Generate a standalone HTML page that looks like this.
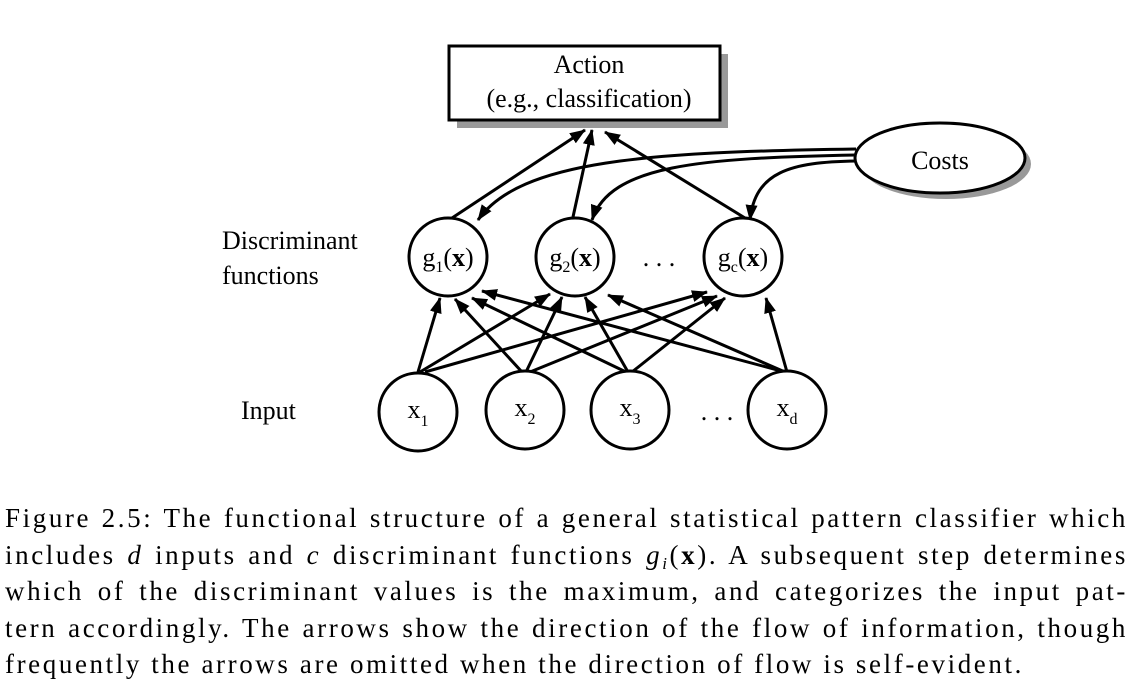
<!DOCTYPE html>
<html><head><meta charset="utf-8"><style>
body{margin:0;background:#fff;width:1141px;height:685px;overflow:hidden;position:relative}
svg{position:absolute;left:0;top:0}
.cap{position:absolute;left:5px;top:500px;width:1123px;font-family:"Liberation Serif",serif;font-size:27px;letter-spacing:2.6px;line-height:36.6px;color:#000}
.cap div{height:36.6px;white-space:nowrap;text-align:justify;text-align-last:justify}
.cap div.l{text-align-last:left}
</style></head><body>
<svg width="1141" height="685" viewBox="0 0 1141 685" font-family="Liberation Serif, serif">
<defs><marker id="b" markerWidth="16" markerHeight="12" refX="15" refY="6" orient="auto" markerUnits="userSpaceOnUse" viewBox="0 0 16 12"><path d="M0,0 L16,6 L0,12 z" fill="#000"/></marker></defs>
<rect x="457" y="54" width="271" height="74" fill="#999"/>
<rect x="449" y="46" width="271" height="74" fill="#fff" stroke="#000" stroke-width="3"/>
<text x="589" y="73" font-size="26" text-anchor="middle">Action</text>
<text x="589" y="107" font-size="26" text-anchor="middle">(e.g., classification)</text>
<ellipse cx="946" cy="164" rx="85" ry="35" fill="#999"/>
<ellipse cx="940" cy="158" rx="85" ry="35" fill="#fff" stroke="#000" stroke-width="3"/>
<text x="940" y="169" font-size="26" text-anchor="middle">Costs</text>
<g stroke="#000" stroke-width="3" fill="none">
<path d="M452,218 L585,130" marker-end="url(#b)"/>
<path d="M573,217 L592,130" marker-end="url(#b)"/>
<path d="M745,218 L605,132" marker-end="url(#b)"/>
<path d="M856,149 C650,152 520,160 478,220" marker-end="url(#b)"/>
<path d="M856,155 C700,158 610,165 592,220" marker-end="url(#b)"/>
<path d="M856,161 C790,162 755,172 750,220" marker-end="url(#b)"/>
<path d="M418,372 L440,298" marker-end="url(#b)"/>
<path d="M420,372 L550,294" marker-end="url(#b)"/>
<path d="M425,372 L707,292" marker-end="url(#b)"/>
<path d="M522,372 L455,299" marker-end="url(#b)"/>
<path d="M526,372 L562,297" marker-end="url(#b)"/>
<path d="M530,372 L717,296" marker-end="url(#b)"/>
<path d="M626,372 L472,298" marker-end="url(#b)"/>
<path d="M628,372 L585,297" marker-end="url(#b)"/>
<path d="M632,372 L725,298" marker-end="url(#b)"/>
<path d="M785,372 L482,291" marker-end="url(#b)"/>
<path d="M785,372 L608,295" marker-end="url(#b)"/>
<path d="M787,372 L766,298" marker-end="url(#b)"/>
</g>
<g fill="#fff" stroke="#000" stroke-width="3">
<circle cx="448" cy="257" r="39"/><circle cx="575" cy="257" r="39"/><circle cx="743" cy="257" r="39"/>
<circle cx="418" cy="412" r="39"/><circle cx="525" cy="410" r="39"/><circle cx="630" cy="410" r="39"/><circle cx="787" cy="410" r="39"/>
</g>
<g font-size="26" text-anchor="middle">
<text x="448" y="266">g<tspan font-size="16" dy="6">1</tspan><tspan dy="-6">(</tspan><tspan font-weight="bold">x</tspan>)</text>
<text x="575" y="266">g<tspan font-size="16" dy="6">2</tspan><tspan dy="-6">(</tspan><tspan font-weight="bold">x</tspan>)</text>
<text x="743" y="266">g<tspan font-size="16" dy="6">c</tspan><tspan dy="-6">(</tspan><tspan font-weight="bold">x</tspan>)</text>
<text x="418" y="418">x<tspan font-size="16" dy="8">1</tspan></text>
<text x="525" y="416">x<tspan font-size="16" dy="8">2</tspan></text>
<text x="630" y="416">x<tspan font-size="16" dy="8">3</tspan></text>
<text x="787" y="416">x<tspan font-size="16" dy="8">d</tspan></text>
<text x="659" y="266">. . .</text>
<text x="717" y="420">. . .</text>
</g>
<text x="222" y="249" font-size="26">Discriminant</text>
<text x="222" y="284" font-size="26">functions</text>
<text x="241" y="419" font-size="26">Input</text>
</svg>
<div class="cap">
<div>Figure 2.5: The functional structure of a general statistical pattern classifier which</div>
<div>includes <i>d</i> inputs and <i>c</i> discriminant functions <i>g<span style="font-size:17px;position:relative;top:5px">i</span></i>(<b>x</b>). A subsequent step determines</div>
<div>which of the discriminant values is the maximum, and categorizes the input pat-</div>
<div>tern accordingly. The arrows show the direction of the flow of information, though</div>
<div class="l">frequently the arrows are omitted when the direction of flow is self-evident.</div>
</div>
</body></html>
